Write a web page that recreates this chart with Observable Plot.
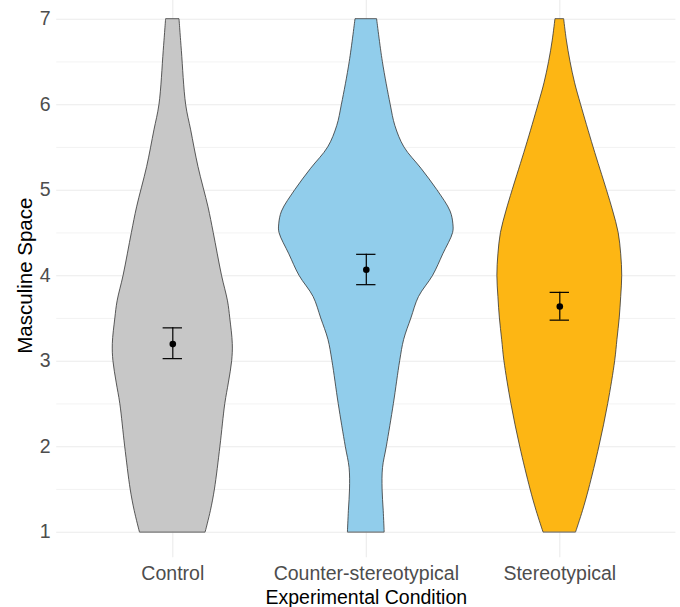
<!DOCTYPE html>
<html><head><meta charset="utf-8">
<script src="https://cdn.jsdelivr.net/npm/d3@7"></script>
<script src="https://cdn.jsdelivr.net/npm/@observablehq/plot@0.6"></script>
<style>body{margin:0;background:#fff} svg{display:block}</style>
</head><body><div id="chart"></div>
<script>
// Categories and summary statistics (mean ± error)
const categories = ["Control", "Counter-stereotypical", "Stereotypical"];
const fills = ["#C7C7C7", "#91CDEB", "#FDB614"];
const means = [3.20, 4.07, 3.64];
const lower = [3.03, 3.895, 3.48];
const upper = [3.39, 4.25, 3.805];

// Violin density profiles (relative width, 1 = widest violin)
const controlY = [1, 1.25, 1.5, 2, 2.5, 2.75, 3, 3.2, 3.5, 3.7, 4, 4.5, 4.8, 5.27, 5.7, 6, 6.63, 7];
const controlW = [0.378, 0.438, 0.484, 0.547, 0.603, 0.645, 0.682, 0.689, 0.660, 0.634, 0.565, 0.470, 0.410, 0.295, 0.211, 0.153, 0.104, 0.077];
const counterY = [1, 1.25, 1.5, 1.75, 2, 2.5, 3, 3.25, 3.5, 3.75, 4, 4.25, 4.5, 4.6, 4.75, 5, 5.25, 5.5, 5.75, 6, 6.5, 7];
const counterW = [0.211, 0.2, 0.187, 0.192, 0.236, 0.317, 0.389, 0.435, 0.518, 0.605, 0.768, 0.884, 0.997, 1, 0.968, 0.816, 0.634, 0.438, 0.334, 0.28, 0.19, 0.124];
const stereoY = [1, 1.25, 1.5, 2, 2.5, 3, 3.25, 3.5, 3.75, 4, 4.25, 4.5, 4.75, 5, 5.5, 6, 6.25, 6.5, 6.75, 7];
const stereoW = [0.188, 0.267, 0.336, 0.455, 0.556, 0.636, 0.662, 0.688, 0.705, 0.717, 0.705, 0.676, 0.614, 0.541, 0.388, 0.244, 0.176, 0.123, 0.081, 0.05];

const yMajor = [1, 2, 3, 4, 5, 6, 7];
const yMinor = [1.5, 2.5, 3.5, 4.5, 5.5, 6.5];

const profiles = [[controlY, controlW], [counterY, counterW], [stereoY, stereoW]];
const violin = profiles.flatMap(([ys, ws], k) =>
  ys.map((y, j) => ({cond: categories[k], i: k + 1, y, w: ws[j]})));
const summary = categories.map((c, k) => ({cond: c, i: k + 1, mean: means[k], lo: lower[k], hi: upper[k]}));

const halfMax = 0.45;  // ggplot violin width 0.9
const capHalf = 0.05;  // errorbar width 0.1

const chart = Plot.plot({
  width: 680, height: 607,
  marginLeft: 56.2, marginRight: 4.6, marginTop: 0, marginBottom: 49.65,
  style: {fontFamily: "'Liberation Sans', Arial, sans-serif", fontSize: "19.5px", background: "#fff"},
  x: {domain: [0.4, 3.6], axis: null},
  y: {domain: [0.7, 7.3], range: [557.35, -6.95], axis: null},
  color: {domain: categories, range: fills},
  marks: [
    Plot.ruleY(yMinor, {stroke: "#F0F0F0", strokeWidth: 0.8}),
    Plot.ruleY(yMajor, {stroke: "#EBEBEB", strokeWidth: 1.1}),
    Plot.ruleX([1, 2, 3], {stroke: "#EBEBEB", strokeWidth: 1.1}),
    Plot.areaX(violin, {
      y: "y",
      x1: d => d.i - halfMax * d.w,
      x2: d => d.i + halfMax * d.w,
      z: "cond", fill: "cond",
      stroke: "#333", strokeWidth: 0.8,
      curve: "catmull-rom"
    }),
    Plot.ruleX(summary, {x: "i", y1: "lo", y2: "hi", stroke: "black", strokeWidth: 1.2}),
    Plot.ruleY(summary, {y: "lo", x1: d => d.i - capHalf, x2: d => d.i + capHalf, stroke: "black", strokeWidth: 1.2}),
    Plot.ruleY(summary, {y: "hi", x1: d => d.i - capHalf, x2: d => d.i + capHalf, stroke: "black", strokeWidth: 1.2}),
    Plot.dot(summary, {x: "i", y: "mean", r: 3.3, fill: "black"}),
    Plot.axisY(yMajor, {tickSize: 0, tickPadding: 6, fontSize: 19.5, color: "#4D4D4D", label: null,
      tickFormat: d => String(d)}),
    Plot.axisX([1, 2, 3], {tickSize: 0, tickPadding: 8.4, fontSize: 19.5, color: "#4D4D4D", label: null,
      tickFormat: d => categories[d - 1]}),
    Plot.text(["Masculine Space"], {text: d => d, frameAnchor: "left", textAnchor: "middle", lineAnchor: "middle",
      rotate: -90, dx: -31.2, dy: -3.5, fontSize: 20.5, fill: "black"}),
    Plot.text(["Experimental Condition"], {text: d => d, frameAnchor: "bottom", textAnchor: "middle", lineAnchor: "top",
      dy: 32.1, fontSize: 19.5, fill: "black"})
  ]
});
document.getElementById("chart").appendChild(chart);
</script>
</body></html>
